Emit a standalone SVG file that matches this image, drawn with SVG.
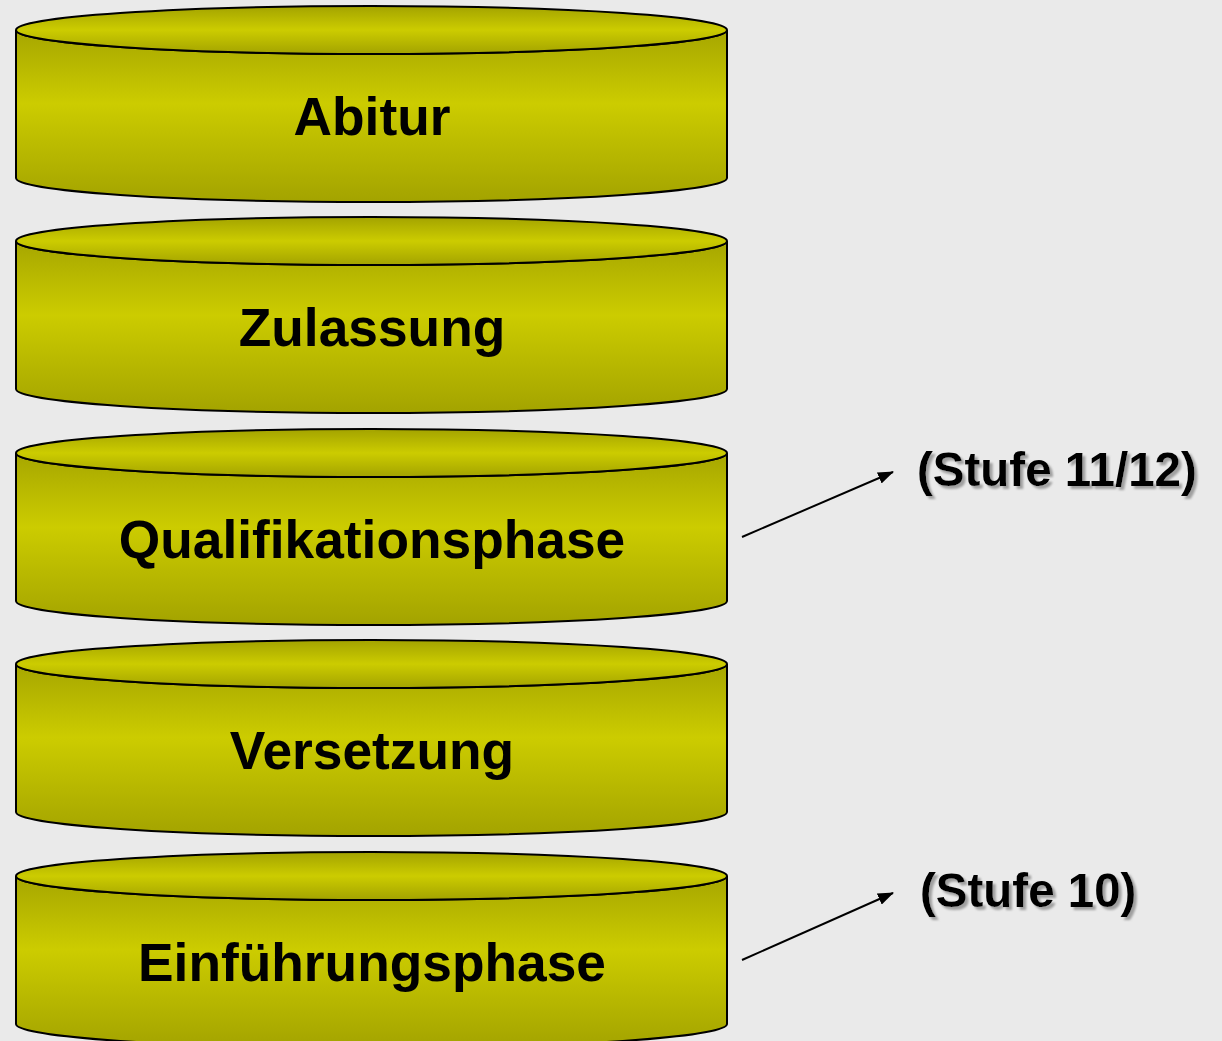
<svg xmlns="http://www.w3.org/2000/svg" width="1222" height="1041" viewBox="0 0 1222 1041">
<defs>
<linearGradient id="side" x1="0" y1="0" x2="0" y2="1">
<stop offset="0" stop-color="#a6a600"/>
<stop offset="0.43" stop-color="#cccc00"/>
<stop offset="1" stop-color="#a3a300"/>
</linearGradient>
<linearGradient id="top" x1="0" y1="0" x2="0" y2="1">
<stop offset="0" stop-color="#a3a300"/>
<stop offset="0.5" stop-color="#cccc00"/>
<stop offset="1" stop-color="#a3a300"/>
</linearGradient>
<marker id="arr" viewBox="0 0 16 12" refX="15" refY="6" markerWidth="16" markerHeight="12" orient="auto" markerUnits="userSpaceOnUse">
<path d="M0,0 L16,6 L0,12 Z" fill="#000"/>
</marker>
<filter id="sh" x="-5%" y="-20%" width="110%" height="140%">
<feGaussianBlur in="SourceAlpha" stdDeviation="0.8"/>
<feOffset dx="3" dy="3" result="o"/>
<feFlood flood-color="#a0a0a0"/>
<feComposite in2="o" operator="in"/>
<feMerge><feMergeNode/><feMergeNode in="SourceGraphic"/></feMerge>
</filter>
</defs>
<style>
.body{fill:url(#side);stroke:#000;stroke-width:2}
.top{fill:url(#top);stroke:#000;stroke-width:2}
.lbl{font-family:"Liberation Sans",Arial,sans-serif;font-weight:bold;font-size:53.3px;text-anchor:middle;fill:#000}
.stufe{font-family:"Liberation Sans",Arial,sans-serif;font-weight:bold;font-size:47.5px;fill:#000}
.conn{stroke:#000;stroke-width:2;fill:none}
</style>
<rect width="1222" height="1041" fill="#eaeaea"/>
<g id="abitur" transform="translate(0,30)">
<path class="body" d="M16,0 L16,148 A355.5,24 0 0 0 727,148 L727,0 A355.5,24 0 0 1 16,0 Z"/>
<ellipse class="top" cx="371.5" cy="0" rx="355.5" ry="24"/>
<text class="lbl" x="372" y="105">Abitur</text>
</g>
<g id="zulassung" transform="translate(0,241)">
<path class="body" d="M16,0 L16,148 A355.5,24 0 0 0 727,148 L727,0 A355.5,24 0 0 1 16,0 Z"/>
<ellipse class="top" cx="371.5" cy="0" rx="355.5" ry="24"/>
<text class="lbl" x="372" y="105">Zulassung</text>
</g>
<g id="qualifikationsphase" transform="translate(0,453)">
<path class="body" d="M16,0 L16,148 A355.5,24 0 0 0 727,148 L727,0 A355.5,24 0 0 1 16,0 Z"/>
<ellipse class="top" cx="371.5" cy="0" rx="355.5" ry="24"/>
<text class="lbl" x="372" y="105">Qualifikationsphase</text>
</g>
<g id="versetzung" transform="translate(0,664)">
<path class="body" d="M16,0 L16,148 A355.5,24 0 0 0 727,148 L727,0 A355.5,24 0 0 1 16,0 Z"/>
<ellipse class="top" cx="371.5" cy="0" rx="355.5" ry="24"/>
<text class="lbl" x="372" y="105">Versetzung</text>
</g>
<g id="einfuehrungsphase" transform="translate(0,876)">
<path class="body" d="M16,0 L16,148 A355.5,24 0 0 0 727,148 L727,0 A355.5,24 0 0 1 16,0 Z"/>
<ellipse class="top" cx="371.5" cy="0" rx="355.5" ry="24"/>
<text class="lbl" x="372" y="105">Einführungsphase</text>
</g>
<g id="stufe1112"><text class="stufe" x="917" y="486" filter="url(#sh)">(Stufe 11/12)</text></g>
<g id="stufe10"><text class="stufe" x="920" y="907" filter="url(#sh)">(Stufe 10)</text></g>
<g id="connectors">
<line class="conn" x1="742" y1="537" x2="893" y2="472" marker-end="url(#arr)"/>
<line class="conn" x1="742" y1="960" x2="893" y2="893" marker-end="url(#arr)"/>
</g>
</svg>
